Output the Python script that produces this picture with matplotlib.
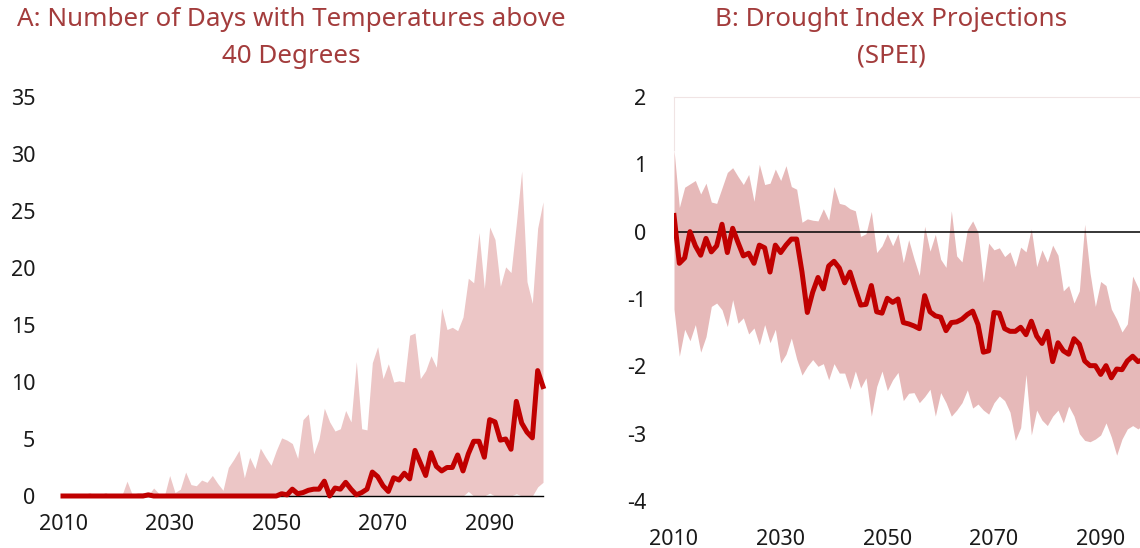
import matplotlib
matplotlib.use("Agg")
import matplotlib.pyplot as plt
import numpy as np

plt.rcParams['font.family'] = ['Noto Sans', 'DejaVu Sans']
plt.rcParams['axes.unicode_minus'] = False

years = np.arange(2010, 2101)

# Panel A: days above 40 degrees
hot_upper = [0.1, 0.1, 0.1, 0.1, 0.1, 0.3, 0.0, 0.1, 0.3, 0.0,
             0.0, 0.0, 1.3, 0.1, 0.3, 0.3, 0.1, 0.7, 0.2, 0.0,
             1.8, 0.3, 0.6, 2.1, 1.0, 0.9, 1.4, 1.2, 1.8, 1.1,
             0.5, 2.5, 3.2, 4.0, 1.6, 3.4, 2.4, 4.2, 3.4, 2.7,
             4.0, 5.1, 4.9, 4.6, 3.3, 6.7, 7.2, 3.7, 5.0, 7.7,
             6.5, 5.7, 5.9, 7.5, 6.5, 11.8, 5.9, 5.8, 11.7, 13.1,
             10.3, 11.6, 10.0, 10.1, 10.0, 14.1, 14.3, 10.3, 11.0, 12.3,
             11.3, 16.5, 14.6, 14.8, 14.5, 15.7, 19.1, 18.7, 23.1, 18.2,
             23.6, 22.5, 18.4, 20.1, 19.6, 23.9, 28.5, 18.8, 16.9, 23.5,
             25.8]
hot_lower = [0.0] * 76 + [0.4, 0.0, 0.0, 0.0, 0.25, 0.0, 0.0, 0.0, 0.0,
                          0.2, 0.0, 0.0, 0.0, 0.8, 1.2]
hot_mean = [0.0] * 16 + [0.1] + [0.0] * 24 + [
    0.2, 0.1, 0.6, 0.2, 0.3, 0.5, 0.6, 0.6, 1.3, 0.0,
    0.7, 0.6, 1.2, 0.6, 0.1, 0.3, 0.6, 2.1, 1.7, 0.9,
    0.4, 1.6, 1.4, 2.0, 1.5, 4.0, 2.9, 1.8, 3.8, 2.6,
    2.2, 2.5, 2.5, 3.6, 2.2, 3.7, 4.8, 4.8, 3.4, 6.7,
    6.5, 4.9, 5.0, 4.1, 8.3, 6.4, 5.6, 5.1, 11.0, 9.6]

# Panel B: SPEI drought index
spei_upper = [1.22, 0.36, 0.66, 0.71, 0.76, 0.56, 0.72, 0.44, 0.42, 0.65,
              0.88, 0.95, 0.82, 0.70, 0.85, 0.45, 1.00, 0.70, 0.72, 0.93,
              0.76, 0.98, 0.67, 0.63, 0.14, 0.19, 0.17, 0.16, 0.34, 0.17,
              0.67, 0.42, 0.40, 0.34, 0.31, -0.07, -0.03, 0.30, -0.31, -0.21,
              -0.03, -0.21, -0.03, -0.46, -0.12, -0.40, -0.65, 0.08, -0.29, -0.04,
              -0.41, -0.53, 0.31, -0.36, -0.45, 0.03, 0.16, -0.01, -0.75, -0.17,
              -0.27, -0.24, -0.37, -0.30, -0.52, -0.23, -0.30, 0.04, -0.52, -0.27,
              -0.45, -0.20, -0.35, -0.88, -0.80, -1.06, -0.88, 0.11, -0.61, -1.11,
              -0.74, -0.80, -1.15, -1.30, -1.49, -1.37, -0.66, -0.83, -1.06, -1.15,
              -1.10]
spei_lower = [-1.15, -1.85, -1.45, -1.62, -1.38, -1.79, -1.56, -1.11, -1.06, -1.16,
              -1.41, -1.01, -1.36, -1.28, -1.52, -1.43, -1.68, -1.38, -1.65, -1.45,
              -1.95, -1.82, -1.58, -1.89, -2.13, -2.00, -1.90, -2.00, -1.96, -2.20,
              -1.96, -2.10, -2.10, -2.34, -2.07, -2.32, -2.17, -2.74, -2.30, -2.07,
              -2.36, -2.20, -2.09, -2.51, -2.40, -2.39, -2.54, -2.45, -2.34, -2.74,
              -2.39, -2.54, -2.74, -2.65, -2.54, -2.35, -2.62, -2.56, -2.65, -2.71,
              -2.54, -2.44, -2.51, -2.68, -3.10, -2.91, -2.12, -3.02, -2.65, -2.80,
              -2.88, -2.74, -2.65, -2.84, -2.59, -2.74, -3.00, -3.10, -3.12, -3.08,
              -3.02, -2.84, -3.05, -3.32, -3.08, -2.93, -2.88, -2.93, -2.86, -2.90,
              -2.95]
spei_mean = [0.24, -0.47, -0.39, 0.00, -0.21, -0.35, -0.10, -0.30, -0.21, 0.11,
             -0.31, 0.05, -0.16, -0.36, -0.32, -0.47, -0.20, -0.24, -0.60, -0.20,
             -0.31, -0.20, -0.11, -0.11, -0.60, -1.20, -0.90, -0.68, -0.85, -0.51,
             -0.44, -0.54, -0.76, -0.60, -0.85, -1.09, -1.08, -0.80, -1.19, -1.21,
             -0.99, -1.05, -1.00, -1.35, -1.37, -1.40, -1.44, -0.95, -1.19, -1.25,
             -1.27, -1.47, -1.35, -1.34, -1.30, -1.23, -1.18, -1.38, -1.79, -1.77,
             -1.20, -1.21, -1.44, -1.48, -1.48, -1.42, -1.53, -1.33, -1.55, -1.66,
             -1.48, -1.93, -1.65, -1.77, -1.82, -1.59, -1.67, -1.92, -1.99, -1.99,
             -2.12, -1.99, -2.17, -2.04, -2.05, -1.92, -1.85, -1.93, -1.90, -1.95,
             -2.00]

line_red = '#c00000'
title_col = '#a33c3c'
W, H = 1140, 548

fig = plt.figure(figsize=(W / 100, H / 100), dpi=100)

# ---- panel A
axA = fig.add_axes([63 / W, (H - 496) / H, 480 / W, 399 / H])
axA.fill_between(years, hot_lower, hot_upper, color='#ecc6c6', lw=0, zorder=1)
axA.plot(years, hot_mean, color=line_red, lw=3.6, zorder=3, clip_on=False,
         solid_joinstyle='round')
axA.set_xlim(2010, 2100)
axA.set_ylim(0, 35)
axA.set_yticks(range(0, 36, 5))
axA.set_xticks([2010, 2030, 2050, 2070, 2090])
for s in ['top', 'right', 'left']:
    axA.spines[s].set_visible(False)
axA.spines['bottom'].set_color('black')
axA.spines['bottom'].set_linewidth(1.0)
axA.tick_params(axis='both', length=0, labelsize=15.5, colors='#1a1a1a')
axA.tick_params(axis='y', pad=20)
axA.tick_params(axis='x', pad=13)

# ---- panel B (runs past the right edge of the picture)
axB = fig.add_axes([674 / W, (H - 501) / H, 480 / W, 404 / H])
axB.fill_between(years, spei_lower, spei_upper, color='#e6b9b9', lw=0, zorder=1)
axB.axhline(0, color='black', lw=1.1, zorder=2)
axB.plot(years, spei_mean, color=line_red, lw=3.6, zorder=3,
         solid_joinstyle='round')
axB.set_xlim(2010, 2100)
axB.set_ylim(-4, 2)
axB.set_yticks(range(-4, 3))
axB.set_xticks([2010, 2030, 2050, 2070, 2090])
axB.spines['right'].set_visible(False)
axB.spines['bottom'].set_visible(False)
axB.spines['top'].set_color('#f0e4e4')
axB.spines['left'].set_color('#f0e4e4')
axB.spines['left'].set_bounds(spei_upper[0], 2)
axB.tick_params(axis='both', length=0, labelsize=15.5, colors='#1a1a1a')
axB.tick_params(axis='y', pad=20)
axB.tick_params(axis='x', pad=20)

# titles
fig.text(291 / W, 1 - 7 / H, 'A: Number of Days with Temperatures above\n40 Degrees',
         ha='center', va='top', fontsize=18.7, color=title_col, linespacing=1.62)
fig.text(891 / W, 1 - 7 / H, 'B: Drought Index Projections\n(SPEI)',
         ha='center', va='top', fontsize=18.7, color=title_col, linespacing=1.62)

fig.savefig('out.png', dpi=100)
